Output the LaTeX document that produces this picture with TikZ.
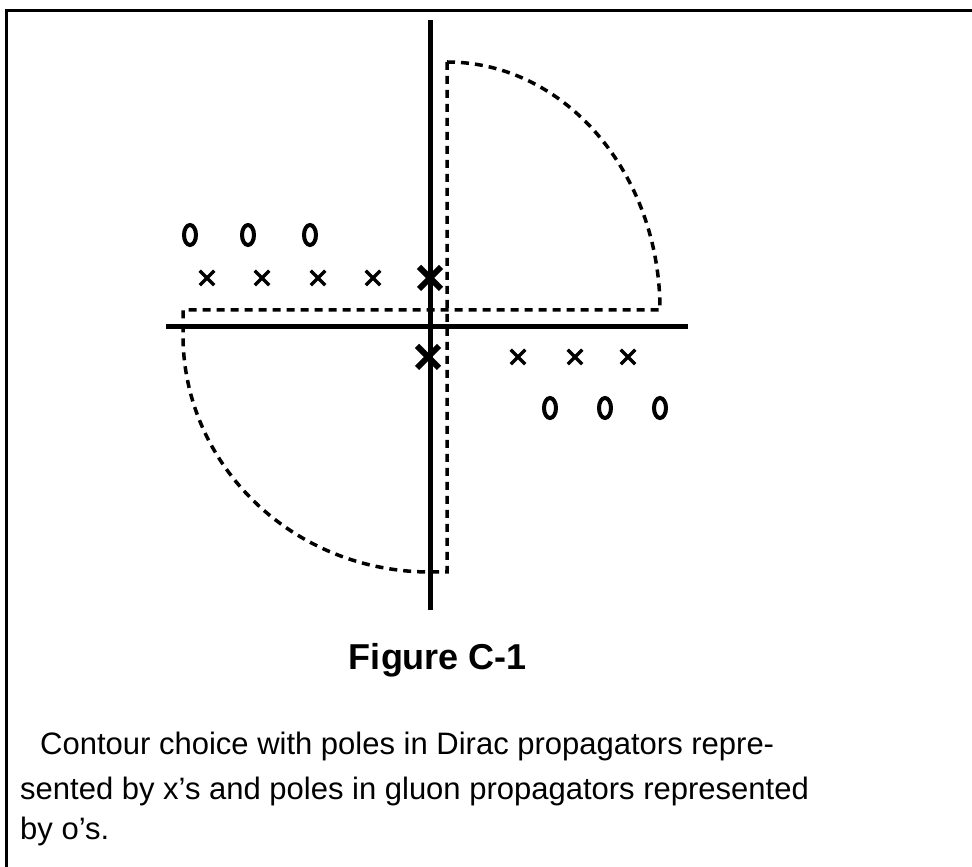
\documentclass[tikz,border=0pt]{standalone}
\usepackage{fontspec}
\setmainfont{Liberation Sans}
\usetikzlibrary{shapes.misc,shapes.geometric}
\begin{document}
\begin{tikzpicture}[x=1pt,y=1pt,
  axis/.style={line width=5pt},
  frame/.style={line width=3pt},
  contour/.style={line width=3.5pt,dash pattern=on 8pt off 6pt},
  pole/.style={cross out,draw,line width=3.5pt,minimum size=11pt,inner sep=0pt},
  bigpole/.style={cross out,draw,line width=6pt,minimum size=16pt,inner sep=0pt},
  gpole/.style={ellipse,draw,line width=4pt,minimum width=12pt,minimum height=20pt,inner sep=0pt},
  captext/.style={anchor=base west,inner sep=0pt,font=\fontsize{31}{36}\selectfont}]
\useasboundingbox (0,0) rectangle (972,867);
% frame
\coordinate (f1) at (6,0);
\coordinate (f2) at (6,856);
\coordinate (f3) at (972,856);
\draw[frame] (f1) -- (f2) -- (f3);
% axes
\coordinate (vt) at (430,847);
\coordinate (vb) at (430,257);
\coordinate (hl) at (166,540);
\coordinate (hr) at (688,540);
\draw[axis] (vb) -- (vt);
\draw[axis] (hl) -- (hr);
% contour
\coordinate (c1) at (447,805);
\coordinate (c2) at (660,557);
\coordinate (c3) at (183,557);
\coordinate (c4) at (183,532);
\coordinate (c5) at (430,295);
\coordinate (c6) at (447,295);
\draw[contour] (c1) arc[start angle=90,end angle=0,x radius=213,y radius=248]
  -- (c3) -- (c4) arc[start angle=180,end angle=270,x radius=247,y radius=237]
  -- (c6) -- cycle;
% x poles
\node[pole] (x1) at (207,589) {};
\node[pole] (x2) at (262,589) {};
\node[pole] (x3) at (318,589) {};
\node[pole] (x4) at (373,589) {};
\node[bigpole] (x5) at (430,589) {};
\node[bigpole] (x6) at (428,510) {};
\node[pole] (x7) at (518,510) {};
\node[pole] (x8) at (575,510) {};
\node[pole] (x9) at (628,510) {};
% o poles
\node[gpole] (o1) at (190,632) {};
\node[gpole] (o2) at (248,632) {};
\node[gpole] (o3) at (310,632) {};
\node[gpole] (o4) at (550,459) {};
\node[gpole] (o5) at (605,459) {};
\node[gpole] (o6) at (660,459) {};
% texts
\node[font=\bfseries\fontsize{36}{40}\selectfont] (fig) at (438,207) {Figure C-1};
\node[captext] (l1) at (40,112) {Contour choice with poles in Dirac propagators repre-};
\node[captext] (l2) at (20,67) {sented by x's and poles in gluon propagators represented};
\node[captext] (l3) at (20,27) {by o's.};
\end{tikzpicture}
\end{document}
